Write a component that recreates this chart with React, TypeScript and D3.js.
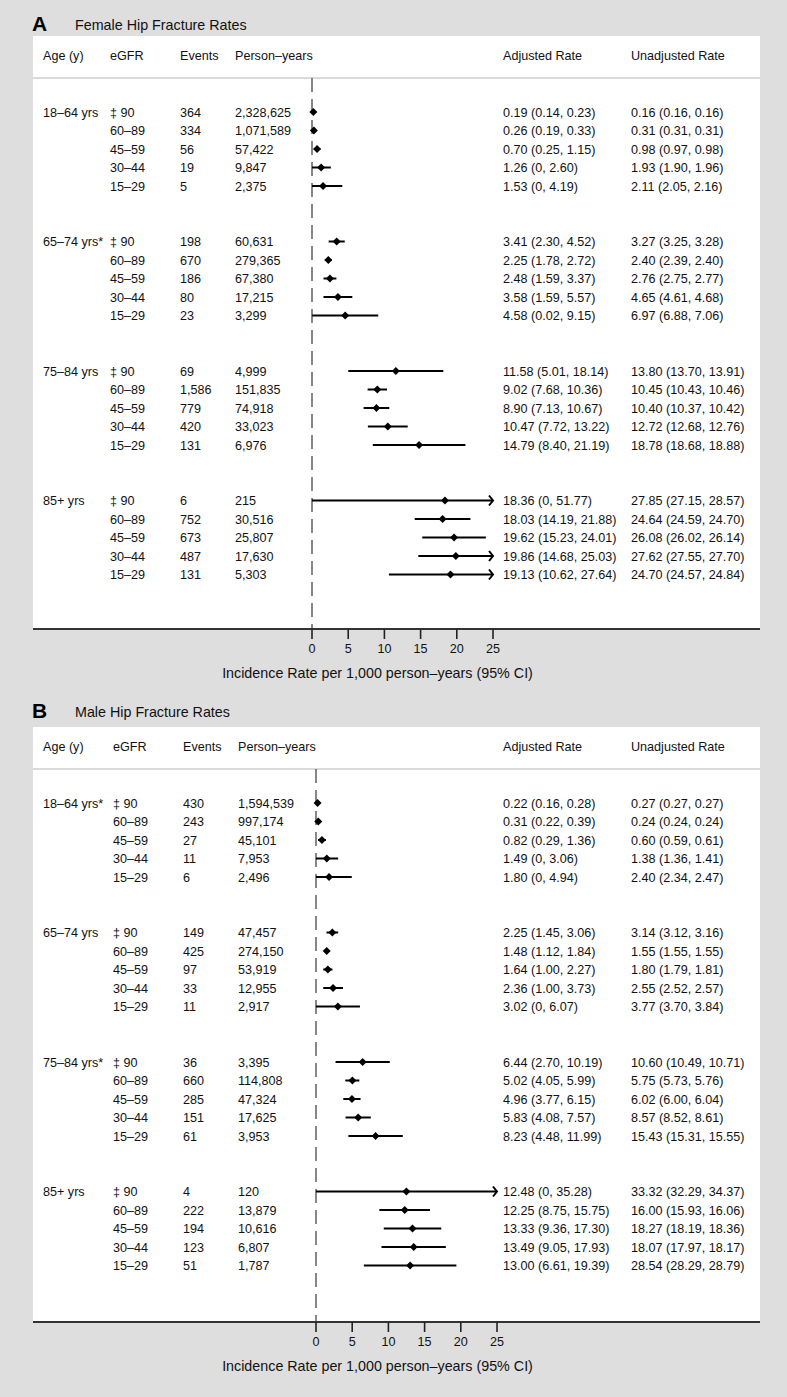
import React from "react";
import * as d3 from "d3";

const ageGroupsF = ["18–64 yrs", "65–74 yrs*", "75–84 yrs", "85+ yrs"];
const ageGroupsM = ["18–64 yrs*", "65–74 yrs", "75–84 yrs*", "85+ yrs"];
const egfrLevels = ["‡ 90", "60–89", "45–59", "30–44", "15–29"];
const axisTicks = [0, 5, 10, 15, 20, 25];

// Female
const fEvents = [364, 334, 56, 19, 5, 198, 670, 186, 80, 23, 69, 1586, 779, 420, 131, 6, 752, 673, 487, 131];
const fPersonYears = [2328625, 1071589, 57422, 9847, 2375, 60631, 279365, 67380, 17215, 3299, 4999, 151835, 74918, 33023, 6976, 215, 30516, 25807, 17630, 5303];
const fAdj = [0.19, 0.26, 0.70, 1.26, 1.53, 3.41, 2.25, 2.48, 3.58, 4.58, 11.58, 9.02, 8.90, 10.47, 14.79, 18.36, 18.03, 19.62, 19.86, 19.13];
const fAdjLo = [0.14, 0.19, 0.25, 0, 0, 2.30, 1.78, 1.59, 1.59, 0.02, 5.01, 7.68, 7.13, 7.72, 8.40, 0, 14.19, 15.23, 14.68, 10.62];
const fAdjHi = [0.23, 0.33, 1.15, 2.60, 4.19, 4.52, 2.72, 3.37, 5.57, 9.15, 18.14, 10.36, 10.67, 13.22, 21.19, 51.77, 21.88, 24.01, 25.03, 27.64];
const fUnadj = [0.16, 0.31, 0.98, 1.93, 2.11, 3.27, 2.40, 2.76, 4.65, 6.97, 13.80, 10.45, 10.40, 12.72, 18.78, 27.85, 24.64, 26.08, 27.62, 24.70];
const fUnadjLo = [0.16, 0.31, 0.97, 1.90, 2.05, 3.25, 2.39, 2.75, 4.61, 6.88, 13.70, 10.43, 10.37, 12.68, 18.68, 27.15, 24.59, 26.02, 27.55, 24.57];
const fUnadjHi = [0.16, 0.31, 0.98, 1.96, 2.16, 3.28, 2.40, 2.77, 4.68, 7.06, 13.91, 10.46, 10.42, 12.76, 18.88, 28.57, 24.70, 26.14, 27.70, 24.84];

// Male
const mEvents = [430, 243, 27, 11, 6, 149, 425, 97, 33, 11, 36, 660, 285, 151, 61, 4, 222, 194, 123, 51];
const mPersonYears = [1594539, 997174, 45101, 7953, 2496, 47457, 274150, 53919, 12955, 2917, 3395, 114808, 47324, 17625, 3953, 120, 13879, 10616, 6807, 1787];
const mAdj = [0.22, 0.31, 0.82, 1.49, 1.80, 2.25, 1.48, 1.64, 2.36, 3.02, 6.44, 5.02, 4.96, 5.83, 8.23, 12.48, 12.25, 13.33, 13.49, 13.00];
const mAdjLo = [0.16, 0.22, 0.29, 0, 0, 1.45, 1.12, 1.00, 1.00, 0, 2.70, 4.05, 3.77, 4.08, 4.48, 0, 8.75, 9.36, 9.05, 6.61];
const mAdjHi = [0.28, 0.39, 1.36, 3.06, 4.94, 3.06, 1.84, 2.27, 3.73, 6.07, 10.19, 5.99, 6.15, 7.57, 11.99, 35.28, 15.75, 17.30, 17.93, 19.39];
const mUnadj = [0.27, 0.24, 0.60, 1.38, 2.40, 3.14, 1.55, 1.80, 2.55, 3.77, 10.60, 5.75, 6.02, 8.57, 15.43, 33.32, 16.00, 18.27, 18.07, 28.54];
const mUnadjLo = [0.27, 0.24, 0.59, 1.36, 2.34, 3.12, 1.55, 1.79, 2.52, 3.70, 10.49, 5.73, 6.00, 8.52, 15.31, 32.29, 15.93, 18.19, 17.97, 28.29];
const mUnadjHi = [0.27, 0.24, 0.61, 1.41, 2.47, 3.16, 1.55, 1.81, 2.57, 3.84, 10.71, 5.76, 6.04, 8.61, 15.55, 34.37, 16.06, 18.36, 18.17, 28.79];

const FONT = "'Liberation Sans', Arial, Helvetica, sans-serif";
const FS = 12.6;
const BG = "#dedede";

const fmtInt = d3.format(",");
const fmtRate = (v: number) => (v === 0 ? "0" : v.toFixed(2));
const fmtCI = (v: number, lo: number, hi: number) => `${fmtRate(v)} (${fmtRate(lo)}, ${fmtRate(hi)})`;

type PanelProps = {
  letter: string;
  title: string;
  titleY: number;
  top: number;
  bottom: number;
  firstRow: number;
  colShift: number;
  axisX0: number;
  ages: string[];
  events: number[];
  py: number[];
  adj: number[];
  adjLo: number[];
  adjHi: number[];
  un: number[];
  unLo: number[];
  unHi: number[];
};

function Panel(p: PanelProps) {
  const left = 33;
  const right = 760;
  const x = d3.scaleLinear().domain([0, 25]).range([p.axisX0, p.axisX0 + 181]);
  const rowStep = 18.5;
  const headerY = p.top + 24;
  const sepY = p.top + 42;
  const colAge = 43;
  const colEgfr = 110 + p.colShift;
  const colEvents = 180 + p.colShift;
  const colPY = 235 + p.colShift;
  const colAdj = 503;
  const colUn = 631;
  const rows: any[] = [];
  p.adj.forEach((v, i) => {
    const g = Math.floor(i / 5);
    const k = i % 5;
    const y = p.firstRow + (g * 7 + k) * rowStep;
    rows.push({ i, g, k, y, v, lo: p.adjLo[i], hi: p.adjHi[i] });
  });
  const txt = { fontFamily: FONT, fontSize: FS, fill: "#111" } as any;
  return (
    <g>
      <text x={32} y={p.titleY} style={{ fontFamily: FONT, fontSize: 21, fontWeight: "bold", fill: "#000" }}>{p.letter}</text>
      <text x={75} y={p.titleY - 0.5} style={{ fontFamily: FONT, fontSize: 14.3, fill: "#111" }}>{p.title}</text>
      <rect x={left} y={p.top} width={right - left} height={p.bottom - p.top} fill="#fff" />
      <text x={colAge} y={headerY} style={txt}>Age (y)</text>
      <text x={colEgfr} y={headerY} style={txt}>eGFR</text>
      <text x={colEvents} y={headerY} style={txt}>Events</text>
      <text x={colPY} y={headerY} style={txt}>Person–years</text>
      <text x={colAdj} y={headerY} style={txt}>Adjusted Rate</text>
      <text x={colUn} y={headerY} style={txt}>Unadjusted Rate</text>
      <line x1={left} x2={right} y1={sepY} y2={sepY} stroke="#b5b5b5" strokeWidth={1.2} />
      <line x1={x(0)} x2={x(0)} y1={sepY} y2={p.bottom} stroke="#555" strokeWidth={1.4} strokeDasharray="14,7" />
      {rows.map((r) => {
        const ty = r.y + 4.5;
        const hiC = Math.min(r.hi, 25);
        const arrow = r.hi > 25;
        const ax = x(25);
        return (
          <g key={r.i}>
            {r.k === 0 && <text x={colAge} y={ty} style={txt}>{p.ages[r.g]}</text>}
            <text x={colEgfr} y={ty} style={txt}>{egfrLevels[r.k]}</text>
            <text x={colEvents} y={ty} style={txt}>{fmtInt(p.events[r.i])}</text>
            <text x={colPY} y={ty} style={txt}>{fmtInt(p.py[r.i])}</text>
            <text x={colAdj} y={ty} style={txt}>{fmtCI(r.v, r.lo, r.hi)}</text>
            <text x={colUn} y={ty} style={txt}>{fmtCI(p.un[r.i], p.unLo[r.i], p.unHi[r.i])}</text>
            <line x1={x(r.lo)} x2={x(hiC)} y1={r.y} y2={r.y} stroke="#000" strokeWidth={2} />
            {arrow && (
              <path d={`M${ax - 4},${r.y - 5} L${ax},${r.y} L${ax - 4},${r.y + 5}`} fill="none" stroke="#000" strokeWidth={2} />
            )}
            <path d={`M${x(r.v)},${r.y - 4} L${x(r.v) + 4},${r.y} L${x(r.v)},${r.y + 4} L${x(r.v) - 4},${r.y} Z`} fill="#000" />
          </g>
        );
      })}
      <line x1={left} x2={right} y1={p.bottom} y2={p.bottom} stroke="#333" strokeWidth={2} />
      {axisTicks.map((t) => (
        <g key={t}>
          <line x1={x(t)} x2={x(t)} y1={p.bottom} y2={p.bottom + 10} stroke="#222" strokeWidth={1.6} />
          <text x={x(t)} y={p.bottom + 24} textAnchor="middle" style={txt}>{t}</text>
        </g>
      ))}
      <text x={377.5} y={p.bottom + 49} textAnchor="middle" style={{ fontFamily: FONT, fontSize: 14.3, fill: "#111" }}>Incidence Rate per 1,000 person–years (95% CI)</text>
    </g>
  );
}

export default function App() {
  return (
    <svg width={787} height={1397} style={{ position: "absolute", left: 0, top: 0, display: "block" }}>
      <rect x={0} y={0} width={787} height={1397} fill={BG} />
      <Panel letter="A" title="Female Hip Fracture Rates" titleY={30.5} top={36} bottom={629} firstRow={112} colShift={0} axisX0={312}
        ages={ageGroupsF} events={fEvents} py={fPersonYears} adj={fAdj} adjLo={fAdjLo} adjHi={fAdjHi}
        un={fUnadj} unLo={fUnadjLo} unHi={fUnadjHi} />
      <Panel letter="B" title="Male Hip Fracture Rates" titleY={717.5} top={727} bottom={1322} firstRow={803} colShift={3} axisX0={316}
        ages={ageGroupsM} events={mEvents} py={mPersonYears} adj={mAdj} adjLo={mAdjLo} adjHi={mAdjHi}
        un={mUnadj} unLo={mUnadjLo} unHi={mUnadjHi} />
    </svg>
  );
}
